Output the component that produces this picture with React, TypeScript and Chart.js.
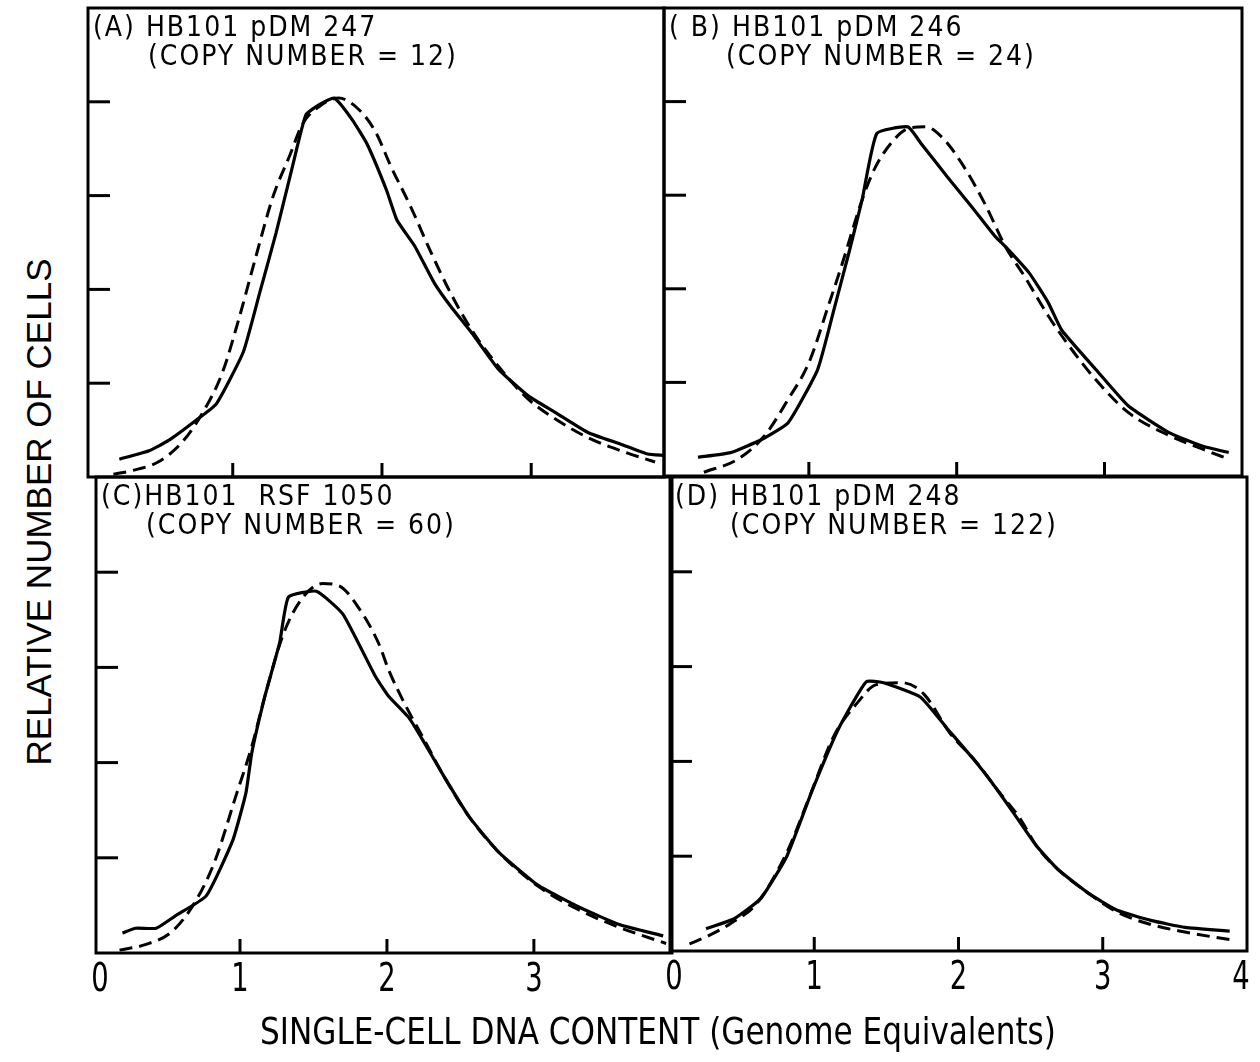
import React, { useEffect, useRef } from "react";
import { Chart, registerables } from "chart.js";

Chart.register(...registerables);

// ---------- data ----------
// Panel A: HB101 pDM 247
const A_OBS_X = [0.24, 0.44, 0.57, 0.75, 0.89, 1.07, 1.18, 1.29, 1.4, 1.49, 1.58, 1.68, 1.8, 1.9, 2.03, 2.1, 2.22, 2.35, 2.46, 2.6, 2.78, 2.98, 3.16, 3.38, 3.6, 3.78, 3.89];
const A_OBS_Y = [0.19, 0.28, 0.39, 0.6, 0.78, 1.33, 1.96, 2.6, 3.31, 3.86, 3.97, 4.04, 3.81, 3.55, 3.06, 2.74, 2.46, 2.07, 1.82, 1.54, 1.15, 0.865, 0.69, 0.475, 0.35, 0.245, 0.23];
const A_FIT_X = [0.2, 0.33, 0.5, 0.66, 0.8, 0.93, 1.04, 1.15, 1.27, 1.38, 1.47, 1.58, 1.71, 1.85, 1.96, 2.06, 2.19, 2.33, 2.46, 2.6, 2.78, 2.98, 3.16, 3.38, 3.6, 3.83];
const A_FIT_Y = [0.03, 0.07, 0.16, 0.37, 0.69, 1.11, 1.68, 2.32, 2.99, 3.42, 3.77, 3.95, 4.04, 3.91, 3.67, 3.31, 2.89, 2.39, 1.96, 1.57, 1.18, 0.83, 0.62, 0.42, 0.28, 0.16];

// Panel B: HB101 pDM 246
const B_OBS_X = [0.25, 0.47, 0.68, 0.86, 1.06, 1.175, 1.27, 1.36, 1.46, 1.67, 1.76, 1.94, 2.1, 2.26, 2.33, 2.49, 2.62, 2.71, 2.94, 3.16, 3.44, 3.66, 3.84];
const B_OBS_Y = [0.2, 0.25, 0.39, 0.57, 1.14, 1.81, 2.38, 2.95, 3.66, 3.73, 3.55, 3.19, 2.88, 2.56, 2.45, 2.17, 1.85, 1.56, 1.14, 0.75, 0.46, 0.32, 0.25];
const B_FIT_X = [0.29, 0.52, 0.7, 0.86, 1.0, 1.13, 1.22, 1.36, 1.45, 1.58, 1.67, 1.79, 1.9, 2.03, 2.19, 2.33, 2.46, 2.62, 2.76, 2.94, 3.16, 3.44, 3.66, 3.84];
const B_FIT_Y = [0.04, 0.18, 0.43, 0.82, 1.21, 1.81, 2.24, 2.95, 3.3, 3.6, 3.71, 3.73, 3.62, 3.35, 2.91, 2.45, 2.13, 1.71, 1.39, 1.03, 0.68, 0.43, 0.29, 0.18];

// Panel C: HB101 RSF 1050
const C_OBS_X = [0.2, 0.29, 0.43, 0.56, 0.77, 0.95, 1.04, 1.08, 1.17, 1.27, 1.33, 1.52, 1.7, 1.92, 2.01, 2.15, 2.25, 2.39, 2.56, 2.76, 3.03, 3.31, 3.58, 3.88];
const C_OBS_Y = [0.21, 0.26, 0.26, 0.39, 0.6, 1.18, 1.68, 2.1, 2.7, 3.26, 3.74, 3.8, 3.56, 2.91, 2.7, 2.47, 2.22, 1.85, 1.43, 1.06, 0.71, 0.48, 0.3, 0.18];
const C_FIT_X = [0.18, 0.36, 0.54, 0.7, 0.83, 0.97, 1.08, 1.17, 1.29, 1.42, 1.56, 1.67, 1.81, 1.95, 2.01, 2.12, 2.25, 2.39, 2.56, 2.76, 3.03, 3.31, 3.58, 3.9];
const C_FIT_Y = [0.03, 0.09, 0.23, 0.55, 0.97, 1.64, 2.17, 2.7, 3.33, 3.72, 3.88, 3.86, 3.62, 3.23, 2.98, 2.62, 2.25, 1.85, 1.43, 1.06, 0.7, 0.45, 0.27, 0.1];

// Panel D: HB101 pDM 248
const D_OBS_X = [0.25, 0.445, 0.63, 0.81, 0.99, 1.17, 1.36, 1.48, 1.735, 1.92, 2.1, 2.23, 2.38, 2.54, 2.69, 2.9, 3.1, 3.34, 3.57, 3.88];
const D_OBS_Y = [0.235, 0.34, 0.555, 1.0, 1.71, 2.35, 2.84, 2.83, 2.68, 2.35, 2.03, 1.78, 1.46, 1.11, 0.86, 0.61, 0.43, 0.32, 0.25, 0.21];
const D_FIT_X = [0.135, 0.265, 0.42, 0.6, 0.81, 0.96, 1.14, 1.3, 1.43, 1.61, 1.76, 1.94, 2.12, 2.28, 2.43, 2.54, 2.69, 2.9, 3.1, 3.31, 3.57, 3.88];
const D_FIT_Y = [0.075, 0.16, 0.29, 0.5, 1.04, 1.6, 2.28, 2.62, 2.81, 2.83, 2.71, 2.3, 2.0, 1.68, 1.39, 1.11, 0.86, 0.61, 0.41, 0.29, 0.2, 0.12];

// ticks
const X_TICKS = [1, 2, 3];
const Y_TICKS = [1, 2, 3, 4];
const X_LABELS_C = [0, 1, 2, 3];
const X_LABELS_D = [0, 1, 2, 3, 4];

const NARROW = "'Liberation Sans Narrow', 'DejaVu Sans Condensed', 'Liberation Sans', sans-serif";
const PAD = 6;
const PAD_B = 70;

type Box = { left: number; top: number; right: number; bottom: number };
type PanelDef = {
  title: string;
  sub: string;
  obsX: number[];
  obsY: number[];
  fitX: number[];
  fitY: number[];
  xMin: number;
  xMax: number;
  box: Box;
  labels: number[] | null;
  subDx: number;
};

const PANELS: PanelDef[] = [
  { title: "(A) HB101 pDM 247", sub: "(COPY NUMBER = 12)", obsX: A_OBS_X, obsY: A_OBS_Y, fitX: A_FIT_X, fitY: A_FIT_Y, xMin: 0.03, xMax: 3.89, box: { left: 88, top: 8, right: 664, bottom: 477 }, labels: null, subDx: 60 },
  { title: "( B) HB101 pDM 246", sub: "(COPY NUMBER = 24)", obsX: B_OBS_X, obsY: B_OBS_Y, fitX: B_FIT_X, fitY: B_FIT_Y, xMin: 0.02, xMax: 3.93, box: { left: 664, top: 8, right: 1242, bottom: 476 }, labels: null, subDx: 62 },
  { title: "(C)HB101  RSF 1050", sub: "(COPY NUMBER = 60)", obsX: C_OBS_X, obsY: C_OBS_Y, fitX: C_FIT_X, fitY: C_FIT_Y, xMin: 0.02, xMax: 3.94, box: { left: 96, top: 477, right: 672, bottom: 953 }, labels: X_LABELS_C, subDx: 50 },
  { title: "(D) HB101 pDM 248", sub: "(COPY NUMBER = 122)", obsX: D_OBS_X, obsY: D_OBS_Y, fitX: D_FIT_X, fitY: D_FIT_Y, xMin: 0, xMax: 4, box: { left: 670, top: 477, right: 1247, bottom: 951 }, labels: X_LABELS_D, subDx: 60 },
];

function pts(xs: number[], ys: number[]) {
  return xs.map((x, i) => ({ x, y: ys[i] }));
}

function Panel({ def }: { def: PanelDef }) {
  const ref = useRef<HTMLCanvasElement>(null);
  const w = def.box.right - def.box.left + PAD * 2;
  const padB = def.labels ? PAD_B : PAD;
  const h = def.box.bottom - def.box.top + PAD + padB;

  useEffect(() => {
    const canvas = ref.current;
    if (!canvas) return;
    const frame = {
      id: "frame",
      afterDatasetsDraw(chart: any) {
        const { ctx, chartArea: a, scales } = chart;
        const xs = scales.x;
        const ys = scales.y;
        ctx.save();
        ctx.strokeStyle = "#000";
        ctx.fillStyle = "#000";
        ctx.lineWidth = 3;
        ctx.strokeRect(a.left, a.top, a.right - a.left, a.bottom - a.top);
        for (const v of Y_TICKS) {
          const py = ys.getPixelForValue(v);
          ctx.beginPath();
          ctx.moveTo(a.left, py);
          ctx.lineTo(a.left + 22, py);
          ctx.stroke();
        }
        for (const v of X_TICKS) {
          if (v <= xs.min || v >= xs.max) continue;
          const px = xs.getPixelForValue(v);
          ctx.beginPath();
          ctx.moveTo(px, a.bottom);
          ctx.lineTo(px, a.bottom - 14);
          ctx.stroke();
        }
        if (def.labels) {
          ctx.font = `39px ${NARROW}`;
          ctx.textAlign = "center";
          ctx.textBaseline = "alphabetic";
          for (const v of def.labels) {
            let px = xs.getPixelForValue(v);
            px = Math.min(Math.max(px, a.left + 4), a.right - 6);
            ctx.save();
            ctx.translate(px, a.bottom + 38);
            ctx.scale(0.78, 1);
            ctx.fillText(String(v), 0, 0);
            ctx.restore();
          }
        }
        ctx.font = `28px ${NARROW}`;
        (ctx as any).letterSpacing = "2px";
        ctx.textAlign = "left";
        ctx.textBaseline = "alphabetic";
        ctx.fillText(def.title, a.left + 5, a.top + 28);
        ctx.fillText(def.sub, a.left + def.subDx, a.top + 57);
        ctx.restore();
      },
    };
    const chart = new Chart(canvas, {
      type: "line",
      data: {
        datasets: [
          {
            data: pts(def.obsX, def.obsY),
            borderColor: "#000",
            borderWidth: 3.2,
            pointRadius: 0,
            tension: 0.15,
            fill: false,
          },
          {
            data: pts(def.fitX, def.fitY),
            borderColor: "#000",
            borderWidth: 3,
            borderDash: [13, 7],
            pointRadius: 0,
            cubicInterpolationMode: "monotone",
            fill: false,
          },
        ],
      },
      options: {
        animation: false,
        responsive: false,
        maintainAspectRatio: false,
        layout: { padding: { left: PAD, right: PAD, top: PAD, bottom: padB } },
        scales: {
          x: { type: "linear", min: def.xMin, max: def.xMax, display: false },
          y: { type: "linear", min: 0, max: 5, display: false },
        },
        plugins: { legend: { display: false }, tooltip: { enabled: false } },
      },
      plugins: [frame],
    } as any);
    return () => chart.destroy();
  }, [def]);

  return (
    <canvas
      ref={ref}
      width={w}
      height={h}
      style={{ position: "absolute", left: def.box.left - PAD, top: def.box.top - PAD, width: w, height: h }}
    />
  );
}

export default function App() {
  return (
    <div style={{ position: "absolute", left: 0, top: 0, width: 1260, height: 1062, background: "#fff", overflow: "hidden" }}>
      {PANELS.map((p, i) => (
        <Panel key={i} def={p} />
      ))}
      <div
        style={{
          position: "absolute",
          left: 38,
          top: 512,
          transform: "translate(-50%, -50%) rotate(-90deg)",
          whiteSpace: "nowrap",
          fontFamily: "'Liberation Sans', Arial, sans-serif",
          fontSize: 35,
          lineHeight: 1,
          color: "#000",
        }}
      >
        RELATIVE NUMBER OF CELLS
      </div>
      <div
        style={{
          position: "absolute",
          left: 658,
          top: 1012,
          transform: "translateX(-50%) scaleX(0.91)",
          whiteSpace: "nowrap",
          fontFamily: NARROW,
          fontSize: 38,
          lineHeight: 1,
          color: "#000",
        }}
      >
        SINGLE-CELL DNA CONTENT (Genome Equivalents)
      </div>
    </div>
  );
}
